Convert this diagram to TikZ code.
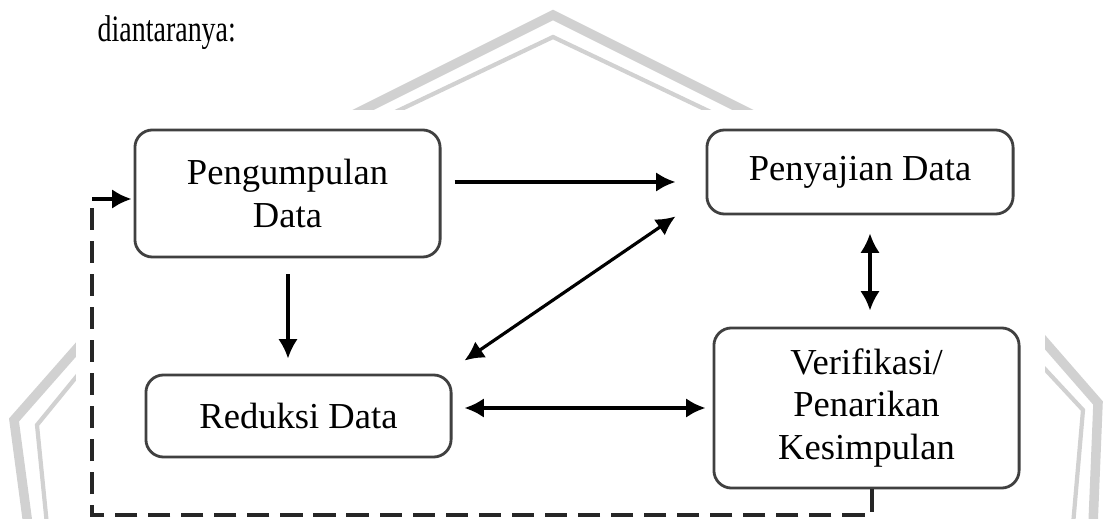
\documentclass[tikz,border=0pt]{standalone}
\usepackage{fontspec}
\setmainfont{Liberation Serif}
\usetikzlibrary{calc}
\usetikzlibrary{arrows.meta}

\begin{document}
\begin{tikzpicture}[x=0.01cm,y=-0.01cm]
      \tikzset{
        box/.style={draw=black!75, line width=0.8pt, rectangle, rounded corners=5pt, align=center, inner sep=0pt, font=\fontsize{10.4}{12}\selectfont},
        wmthick/.style={draw=black!18, line width=2.7pt},
        wmthin/.style={draw=black!18, line width=1.2pt},
        line/.style={draw, line width=0.9pt, -{Latex[length=5.5pt,width=5.5pt]}},
        twoway/.style={draw, line width=0.9pt, {Latex[length=5.5pt,width=5.5pt]}-{Latex[length=5.5pt,width=5.5pt]}},
        feedback/.style={draw=black!85, line width=1.1pt, dash pattern=on 6.3pt off 3.1pt},
      }
      \useasboundingbox (0,0) rectangle (1103,519);
      % watermark in the back
      \path [wmthick] (353,115) -- (553,15) -- (753,115);
      \path [wmthin] (389,115) -- (553,37) -- (717,115);
      \path [wmthick] (95,328) -- (14,420) -- (28,525);
      \path [wmthin] (95,354) -- (37,425) -- (47,525);
      \path [wmthick] (1030,325) -- (1098,403) -- (1093,525);
      \path [wmthin] (1030,353) -- (1083,410) -- (1073,525);
      \fill [white] (76,110) rectangle (1045,519);

      \node [anchor=base west, inner sep=0pt, font=\fontsize{10.6}{12}\selectfont] (intro) at (97,42) {\scalebox{0.75}[1]{diantaranya:}};

      \node [box, minimum width=3.05cm, minimum height=1.27cm] (peng) at (287.5,193.5) {Pengumpulan\\Data};
      \node [box, minimum width=3.06cm, minimum height=0.84cm] (pen) at (860,172) {Penyajian Data};
      \node [box, minimum width=3.05cm, minimum height=0.82cm] (red) at (298.5,416) {Reduksi Data};
      \node [box, minimum width=3.05cm, minimum height=1.60cm] (ver) at (866.5,408) {Verifikasi/\\Penarikan\\Kesimpulan};

      \path [line] ($(peng.east)+(13,-11.5)$) -- ($(pen.west)+(-30,10)$);
      \path [line] ($(peng.south)+(0.5,16)$) -- ($(red.north)+(-10.5,-15)$);
      \path [twoway] ($(red.north east)+(12,-13)$) -- ($(pen.south west)+(-30,1)$);
      \path [twoway] ($(pen.south)+(10,18)$) -- ($(ver.north)+(3.5,-16)$);
      \path [twoway] ($(red.east)+(12,-8)$) -- ($(ver.west)+(-7,0)$);
      %loop back
      \coordinate (bend) at (92,515);
      \coordinate (turn) at (92,199);
      \path [feedback] ($(ver.south)+(5.5,0)$) |- (bend) -- (turn);
      \path [line] (turn) -- ($(turn -| peng.west)+(-2,0)$);
\end{tikzpicture}
\end{document}
